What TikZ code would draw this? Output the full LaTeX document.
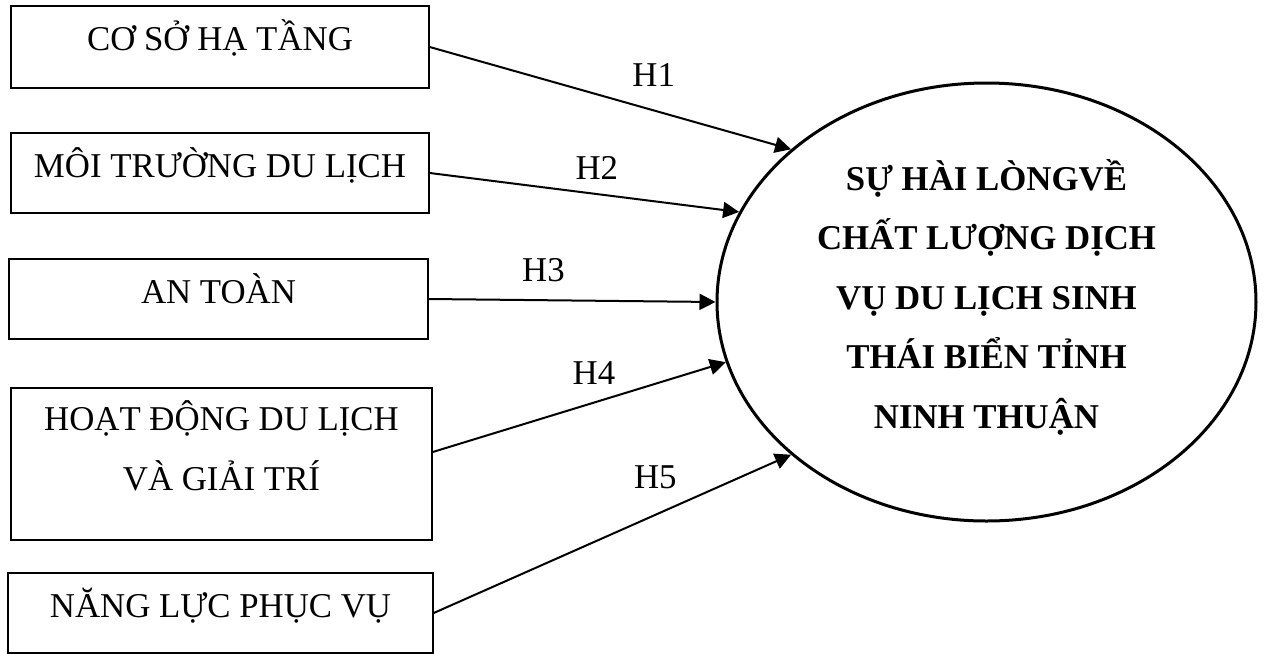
\documentclass[tikz,border=0pt]{standalone}
\usepackage{fontspec}
\setmainfont{Liberation Serif}
\usepackage{tikz}
\usetikzlibrary{positioning,arrows.meta,shapes.geometric}
\tikzset{
	>={Triangle[length=8pt,width=8pt]},
	factor/.style={draw, line width=0.75pt, inner sep=0pt, align=center,
		font=\fontsize{17.4pt}{30pt}\selectfont, text height=22pt},
	hypo/.style={->, line width=1pt},
	hlabel/.style={inner sep=0pt, font=\fontsize{17.4pt}{30pt}\selectfont},
}

\begin{document}
\begin{tikzpicture}[x=0.5pt, y=0.5pt]
	\useasboundingbox (0,0) rectangle (1266,-654);
	% yeu to tac dong
	\node[factor, minimum width=209pt, minimum height=41pt, text depth=19pt] (csht) at (220,-47) {CƠ SỞ HẠ TẦNG};
	\node[factor, minimum width=209pt, minimum height=40pt, text depth=18pt] (mtdl) at (220,-173) {MÔI TRƯỜNG DU LỊCH};
	\node[factor, minimum width=209.5pt, minimum height=40pt, text depth=18pt] (antoan) at (218.5,-299) {AN TOÀN};
	\node[factor, minimum width=210.5pt, minimum height=76pt, text height=51pt, text depth=25pt] (hdgt) at (221.5,-464) {HOẠT ĐỘNG DU LỊCH\\ VÀ GIẢI TRÍ};
	\node[factor, minimum width=212.5pt, minimum height=40pt, text depth=18pt] (nlpv) at (220.5,-613) {NĂNG LỰC PHỤC VỤ};
	% su hai long
	\node[draw, ellipse, line width=1.5pt, minimum width=269.5pt, minimum height=219pt, inner sep=0pt,
		align=center, font=\bfseries\fontsize{17.4pt}{29.75pt}\selectfont,
		text height=130pt, text depth=4pt] (hailong) at (986.5,-302)
		{SỰ HÀI LÒNGVỀ\\ CHẤT LƯỢNG DỊCH\\ VỤ DU LỊCH SINH\\ THÁI BIỂN TỈNH\\ NINH THUẬN};
	% gia thuyet
	\draw[hypo] (csht.east) -- node[hlabel, pos=0.62, above=11.6pt] {H1} (hailong.142.6);
	\draw[hypo] (mtdl.east) -- node[hlabel, pos=0.54, above=7pt] {H2} (hailong.160.4);
	\draw[hypo] (antoan.east) -- node[hlabel, pos=0.4, above=8.6pt] {H3} (hailong.180);
	\draw[hypo] ([yshift=6pt]hdgt.east) -- node[hlabel, pos=0.55, above=8.6pt] {H4} (hailong.193.8);
	\draw[hypo] (nlpv.east) -- node[hlabel, pos=0.62, above=12.6pt] {H5} (hailong.218);
\end{tikzpicture}
\end{document}
